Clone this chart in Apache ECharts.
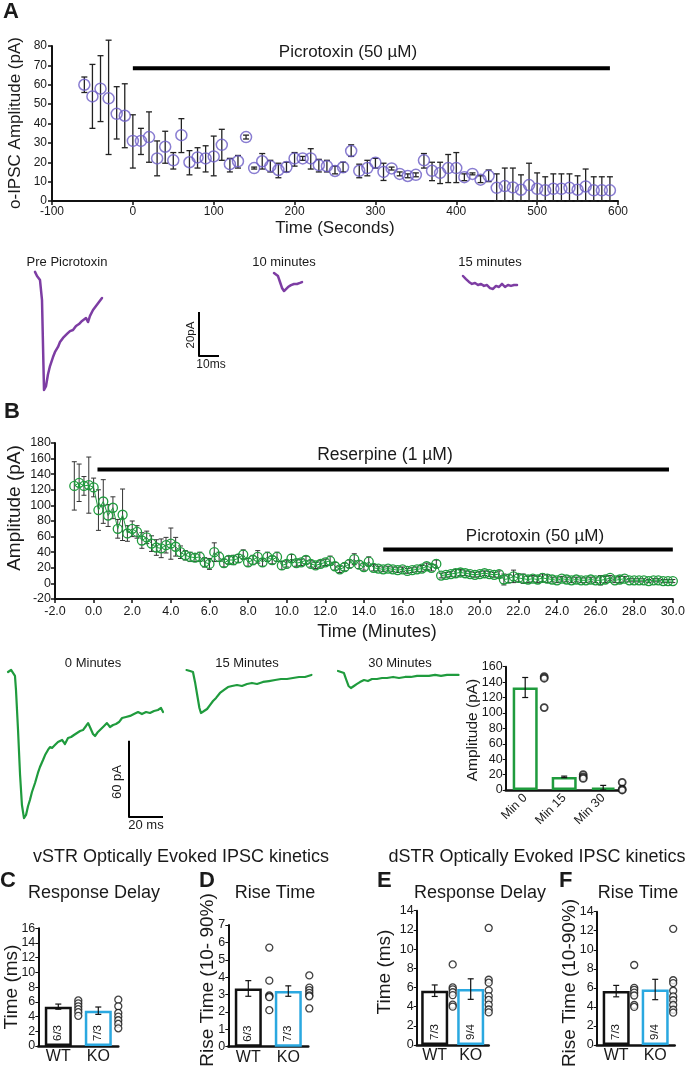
<!DOCTYPE html>
<html><head><meta charset="utf-8">
<script src="https://cdn.jsdelivr.net/npm/echarts/dist/echarts.min.js"></script>
<style>html,body{margin:0;padding:0;background:#fff}#c{width:688px;height:1066px}</style>
</head><body><div id="c"></div>
<script>
// ================= DATA =================
// Panel A: o-IPSC amplitude vs time (s)
const aTime = [-60,-50,-40,-30,-20,-10,0,10,20,30,40,50,60,70,80,90,100,110,120,130,140,150,160,170,180,190,200,210,220,230,240,250,260,270,280,290,300,310,320,330,340,350,360,370,380,390,400,410,420,430,440,450,460,470,480,490,500,510,520,530,540,550,560,570,580,590];
const aMean = [60,54,58,53,45,44,31,31,33,22,28,21,34,20,22.5,22,23,29,19,20.5,33,17,20.5,18,16,17.5,22,22,22,18.5,18,15.5,17.4,25.8,15.6,17,19.8,15,16.8,14,12.9,13.5,21,15.6,14.5,17,17,12.3,14,11,13,6.8,7.7,7,5.8,8.2,6.3,5.5,6.3,6.3,6.8,5.8,7.5,5.5,5.5,5.5];
const aLow = [56,37.5,41,24,32,27.5,17,24,20,13,19.5,16.5,25,13.5,17,15,13,21,15,17,32,16.5,16.5,15,12,15,18,21,16.5,15,15,14,15,23,12,13,17,10.6,16,13,12,12.5,17,10.5,9,9.5,9.5,10.5,13.5,9.5,10,0,0,0,0,0,0,0,0,0,0,0,0,0,0,0];
const aHigh = [64,70.5,75,83,59,60.5,44.5,37.5,46,31,36,25,42.5,26,27.5,28.5,33.5,37,22,23.5,34,17.5,24.5,21,19.5,20,25,23,27,21.5,21,18,20,29,19,21,22,19.5,17.5,15,14,14.5,24.5,20,20,24,25,14,14.5,13,16,14,17,17,13.5,19.5,14.5,12.5,14,14,14,13,16.5,12.5,12.5,12.5];
const aDrugLabel = 'Picrotoxin (50 µM)';
const aDrugSpan = [0, 590];
const aDrugLevel = 68.5;
// Panel A example traces: [ms, pA relative to baseline]
const aTraceLabels = ['Pre Picrotoxin', '10 minutes', '15 minutes'];
const aTracePre = [[0,0.5],[1,-1.4],[2,-0.5],[2.5,-3.2],[3,-2.7],[3.5,-12.3],[4,-32.7],[4.5,-53.2],[5.5,-51.4],[6.5,-46],[7.5,-42.3],[9,-38.2],[10,-35.9],[11.5,-33.6],[12.5,-31.4],[14,-29.5],[16,-27.7],[17.5,-26.4],[19,-25.9],[20.5,-24.1],[22,-23.2],[23.5,-21.8],[24.5,-22.7],[25.5,-20.5],[26.5,-22.3],[27.5,-19.5],[29,-16.8],[30.5,-15],[32,-13.2],[33.5,-11.4]];
const aTrace10 = [[0,0],[1,-0.5],[2,-1.4],[3,-4.1],[4,-6.8],[5,-8.2],[6,-7.3],[7,-6.4],[8.5,-5.5],[10,-5],[11.5,-5],[13,-4.5],[14,-4.1]];
const aTrace15 = [[0,0],[1.5,-1.4],[3,-2.7],[4.5,-3.6],[6,-3.2],[7.5,-4.1],[9,-3.6],[10.5,-4.5],[12,-4.1],[13.5,-5.5],[15,-5.9],[16.5,-4.5],[18,-5],[19.5,-3.6],[21,-5],[22.5,-4.1],[24,-4.5],[25.5,-4.1],[27,-4.1]];
const aScaleBar = [[0,20],[0,0],[10,0]];
const aScaleLabels = ['20pA', '10ms'];

// Panel B: amplitude vs time (min)
const bTime = [-1,-0.75,-0.5,-0.25,0,0.25,0.5,0.75,1,1.25,1.5,1.75,2,2.25,2.5,2.75,3,3.25,3.5,3.75,4,4.25,4.5,4.75,5,5.25,5.5,5.75,6,6.25,6.5,6.75,7,7.25,7.5,7.75,8,8.25,8.5,8.75,9,9.25,9.5,9.75,10,10.25,10.5,10.75,11,11.25,11.5,11.75,12,12.25,12.5,12.75,13,13.25,13.5,13.75,14,14.25,14.5,14.75,15,15.25,15.5,15.75,16,16.25,16.5,16.75,17,17.25,17.5,17.75,18,18.25,18.5,18.75,19,19.25,19.5,19.75,20,20.25,20.5,20.75,21,21.25,21.5,21.75,22,22.25,22.5,22.75,23,23.25,23.5,23.75,24,24.25,24.5,24.75,25,25.25,25.5,25.75,26,26.25,26.5,26.75,27,27.25,27.5,27.75,28,28.25,28.5,28.75,29,29.25,29.5,29.75,30];
const bMean = [125,129,125,126,123, 94,105,87,97, 70,88,64,70, 66,55,59,51, 46,45,49,51, 47,40,36,34, 33,34,27,25, 40,34,26,30, 30,32,37,27, 30,34,27,34, 30,34,23,25, 32,26,27,30, 25,23,25,27, 29,22,18,21, 25,31,24,21, 28,20,19,18, 19,18,17,18, 16,17,18,19, 22,20,25,10, 11,12,13,14, 13,12,11,12, 13,12,11,12, 5,6,9,7, 6,5,6,5, 7,6,5,4, 6,5,4,5, 4,4,5,4, 4,5,7,4, 5,6,4,4, 4,4,3,4, 4,3,3,3];
const bErr = [31,24,12,36,12, 26,28,14,14, 12,33,10,10, 8,10,8,10, 10,12,10,20, 12,8,6,6, 5,6,6,7, 12,6,5,5, 6,5,6,5, 6,8,5,6, 5,6,5,4, 5,4,4,5, 4,4,4,4, 6,5,4,5, 5,7,5,4, 6,4,3,3, 3,3,3,3, 3,3,3,4, 4,4,5,3, 3,3,5,4, 3,3,3,3, 3,3,3,4, 7,5,8,5, 6,4,4,4, 5,5,3,3, 3,3,3,3, 3,3,3,3, 6,4,3,3, 4,3,2,2, 2,2,2,2, 2,2,2,2];
const bDrugLabels = ['Reserpine (1 µM)', 'Picrotoxin (50 µM)'];
const bDrugSpans = [[0.2, 29.8], [15, 30]];
const bDrugLevels = [146, 43.6];
const bTraceLabels = ['0 Minutes', '15 Minutes', '30 Minutes'];
const bTrace0 = [[0,0],[1.8,1.6],[2.9,0.8],[4.1,-3.1],[4.7,-14.2],[5.9,-45.7],[7.1,-81.1],[8.2,-104.7],[9.4,-115],[10.6,-112.6],[11.8,-105.5],[12.9,-100.8],[14.1,-94.5],[15.9,-87.4],[17.6,-79.5],[18.8,-74.8],[20.6,-69.3],[21.8,-65.4],[23.5,-61.4],[24.7,-59.1],[25.9,-59.8],[27.6,-57.5],[29.4,-55.1],[31.8,-53.5],[33.5,-56.7],[35.3,-52],[37.1,-51.2],[38.8,-49.6],[40.6,-48],[42.4,-46.5],[44.1,-45.7],[45.9,-42.5],[47.1,-40.2],[48.2,-43.3],[50,-48.8],[51.2,-50.4],[52.9,-47.2],[54.7,-44.9],[56.5,-42.5],[58.2,-40.2],[60,-43.3],[61.8,-41.7],[63.5,-40.9],[65.3,-39.4],[67.1,-36.2],[69.4,-35.4],[71.8,-34.6],[74.1,-33.1],[76.5,-31.5],[78.8,-33.1],[81.2,-31.5],[83.5,-32.3],[85.9,-30.7],[88.2,-29.9],[90,-28.3],[91.2,-31.5]];
const bTrace15 = [[0,0],[2.1,-0.8],[3.8,-1.6],[5,-9.4],[6.5,-21.3],[7.6,-29.9],[8.5,-33.9],[10.3,-32.3],[12.1,-30.7],[13.8,-27.6],[15.6,-24.4],[17.4,-22],[19.7,-18.1],[22.1,-15.7],[24.4,-13.4],[26.8,-12.6],[29.7,-11.8],[32.6,-12.6],[35.6,-11],[38.5,-10.2],[41.5,-11],[45,-9.4],[48.5,-8.7],[52.1,-7.9],[55.6,-7.1],[59.1,-7.1],[62.6,-6.3],[66.2,-5.5],[69.7,-5.5],[73.5,-3.9]];
const bTrace30 = [[0,0],[1.8,-0.8],[3.5,-1.6],[4.7,-6.3],[6.2,-11.8],[7.6,-13.4],[9.4,-11.8],[11.2,-10.2],[12.9,-8.7],[15.3,-7.1],[17.6,-7.9],[20,-6.3],[22.9,-6.3],[25.9,-5.5],[28.8,-5.5],[32.4,-4.7],[35.9,-5.5],[39.4,-4.7],[42.9,-4.7],[46.5,-3.9],[50,-3.9],[53.5,-3.9],[57.1,-3.1],[60.6,-3.9],[64.1,-3.1],[67.6,-3.1],[70.9,-3.1]];
const bScaleBar = [[0,60],[0,0],[20,0]];
const bScaleLabels = ['60 pA', '20 ms'];
// Panel B summary bars
const bBarCats = ['Min 0', 'Min 15', 'Min 30'];
const bBarMean = [133, 17, 3];
const bBarErr = [13, 1, 3];
const bBarPoints = [[147,145,107],[20,17,15],[10,1,0]];

// Panels C-F
const groups = ['WT', 'KO'];
const cMean = [5.35, 4.8];  const cErr = [0.35, 0.5];
const cPoints = [[6.2,5.8,5.4,5.0,4.6,4.1],[6.3,5.4,4.5,4.0,3.5,3.0,2.4]];
const cN = ['6/3', '7/3'];
const dMean = [3.35, 3.2];  const dErr = [0.45, 0.3];
const dPoints = [[5.7,3.8,2.95,2.9,2.85,2.1],[4.1,3.4,3.25,3.1,2.95,2.9,2.2]];
const dN = ['6/3', '7/3'];
const eMean = [5.66, 5.83]; const eErr = [0.6, 1.07];
const ePoints = [[8.4,6.0,5.8,5.5,5.2,4.2,4.0],[12.2,6.8,6.5,5.7,5.1,4.7,4.2,3.7,3.4]];
const eN = ['7/3', '9/4'];
const fMean = [5.66, 5.83]; const fErr = [0.6, 1.07];
const fPoints = [[8.4,6.0,5.8,5.5,5.2,4.2,4.0],[12.2,6.8,6.5,5.7,5.1,4.7,4.2,3.7,3.4]];
const fN = ['7/3', '9/4'];

// ================= BUILD =================
const TXT = '#1a1a1a';
const FONT = "'Liberation Sans', Arial, Helvetica, sans-serif";
const PURPLE_M = '#6c5cc6', PURPLE_T = '#7d3da3', GREEN = '#1f9b3d', BLUE = '#2aa8e0';
const grids = [], xAxes = [], yAxes = [], series = [], graphics = [];

function addGrid(g, xa, ya) {
  const gi = grids.length;
  grids.push(g);
  xAxes.push(Object.assign({gridIndex: gi}, xa));
  yAxes.push(Object.assign({gridIndex: gi}, ya));
  return gi;
}
function valAxis(min, max, interval, extra) {
  return Object.assign({type: 'value', min: min, max: max, interval: interval,
    axisLine: {show: true, onZero: false, lineStyle: {color: '#111', width: 2}},
    axisTick: {show: true, length: 4, lineStyle: {color: '#111', width: 1.5}},
    splitLine: {show: false},
    axisLabel: {color: TXT, fontSize: 12, fontFamily: FONT, margin: 5}}, extra || {});
}
function errRender(color, lw, cap) {
  return function (params, api) {
    const x = api.value(0), lo = api.value(1), hi = api.value(2);
    const a = api.coord([x, lo]), b = api.coord([x, hi]);
    const cx = a[0];
    const st = {stroke: color, lineWidth: lw};
    return {type: 'group', children: [
      {type: 'line', shape: {x1: cx, y1: a[1], x2: cx, y2: b[1]}, style: st},
      {type: 'line', shape: {x1: cx - cap, y1: a[1], x2: cx + cap, y2: a[1]}, style: st},
      {type: 'line', shape: {x1: cx - cap, y1: b[1], x2: cx + cap, y2: b[1]}, style: st}
    ]};
  };
}
function errSeries(gi, data, color, lw, cap) {
  return {type: 'custom', xAxisIndex: gi, yAxisIndex: gi, renderItem: errRender(color, lw, cap),
    data: data, encode: {x: 0, y: [1, 2]}, clip: false, silent: true, z: 3};
}
function traceGrid(left, baseline, wPx, above, below, pxMs, pxPA) {
  return addGrid({left: left, top: baseline - above, width: wPx, height: above + below},
    {type: 'value', min: 0, max: wPx / pxMs, show: false},
    {type: 'value', min: -below / pxPA, max: above / pxPA, show: false});
}
function lineSeries(gi, data, color, width) {
  return {type: 'line', xAxisIndex: gi, yAxisIndex: gi, data: data, symbol: 'none', clip: false,
    lineStyle: {color: color, width: width, join: 'round', cap: 'round'}, silent: true, z: 4};
}
function text(str, x, y, size, opts) {
  opts = opts || {};
  graphics.push({type: 'text', x: x, y: y, rotation: opts.rot || 0, z: 100,
    style: {text: str, fill: TXT, font: (opts.bold ? 'bold ' : '') + size + 'px ' + FONT,
      textAlign: opts.align || 'center', align: opts.align || 'center',
      textVerticalAlign: 'middle', verticalAlign: 'middle'}});
}

// ---------- Panel A main ----------
const gA = addGrid({left: 52, top: 46, width: 566, height: 155},
  valAxis(-100, 600, 100), valAxis(0, 80, 10));
series.push(errSeries(gA, aTime.map((t, i) => [t, aLow[i], aHigh[i]]), '#222', 1.3, 3));
series.push({type: 'scatter', xAxisIndex: gA, yAxisIndex: gA, data: aTime.map((t, i) => [t, aMean[i]]),
  symbol: 'circle', symbolSize: 11, silent: true, z: 5,
  itemStyle: {color: 'rgba(0,0,0,0)', borderColor: PURPLE_M, borderWidth: 1.5}});
series.push(lineSeries(gA, [[aDrugSpan[0], aDrugLevel], [aDrugSpan[1], aDrugLevel]], '#000', 4));
series[series.length - 1].lineStyle.cap = 'butt';
text(aDrugLabel, 348, 52, 17);
text('o-IPSC Amplitude (pA)', 15, 123, 17, {rot: Math.PI / 2});
text('Time (Seconds)', 335, 228, 17);
text('A', 3, 12, 22, {bold: true, align: 'left'});

// Panel A traces (2 px/ms, 2.2 px/pA)
const gAp = traceGrid(35, 273, 70, 6, 122, 2, 2.2);
series.push(lineSeries(gAp, aTracePre, PURPLE_T, 2.5));
const gA10 = traceGrid(274, 273, 30, 6, 26, 2, 2.2);
series.push(lineSeries(gA10, aTrace10, PURPLE_T, 2.5));
const gA15 = traceGrid(463, 276, 56, 6, 20, 2, 2.2);
series.push(lineSeries(gA15, aTrace15, PURPLE_T, 2.5));
const gAs = traceGrid(199, 356, 22, 46, 2, 2, 2.2);
series.push(lineSeries(gAs, aScaleBar, '#000', 2));
series[series.length - 1].lineStyle.cap = 'butt';
text(aTraceLabels[0], 67, 262, 13);
text(aTraceLabels[1], 284, 262, 13);
text(aTraceLabels[2], 490, 262, 13);
text(aScaleLabels[0], 191, 335, 11.5, {rot: Math.PI / 2});
text(aScaleLabels[1], 211, 365, 12);

// ---------- Panel B main ----------
const gB = addGrid({left: 55, top: 443, width: 618.5, height: 156},
  valAxis(-2, 30, 2, {axisLabel: {color: TXT, fontSize: 12.5, fontFamily: FONT, margin: 6, formatter: v => v.toFixed(1)}}),
  valAxis(-20, 180, 20, {axisLabel: {color: TXT, fontSize: 12.5, fontFamily: FONT, margin: 4}}));
series.push(errSeries(gB, bTime.map((t, i) => [t, bMean[i] - bErr[i], bMean[i] + bErr[i]]), '#333', 1, 2.5));
series.push({type: 'line', xAxisIndex: gB, yAxisIndex: gB, data: bTime.map((t, i) => [t, bMean[i]]),
  symbol: 'circle', symbolSize: 9, showAllSymbol: true, silent: true, z: 5,
  lineStyle: {color: GREEN, width: 1},
  itemStyle: {color: 'rgba(0,0,0,0)', borderColor: GREEN, borderWidth: 1.3}});
bDrugSpans.forEach((s, i) => {
  series.push(lineSeries(gB, [[s[0], bDrugLevels[i]], [s[1], bDrugLevels[i]]], '#000', 4));
  series[series.length - 1].lineStyle.cap = 'butt';
});
text(bDrugLabels[0], 385, 455, 17.5);
text(bDrugLabels[1], 535, 536, 17);
text('Amplitude (pA)', 15, 508, 19, {rot: Math.PI / 2});
text('Time (Minutes)', 377, 632, 18);
text('B', 4, 412, 22, {bold: true, align: 'left'});

// Panel B traces (1.7 px/ms, 1.27 px/pA)
const gB0 = traceGrid(8, 672, 158, 8, 150, 1.7, 1.27);
series.push(lineSeries(gB0, bTrace0, GREEN, 2.2));
const gB15 = traceGrid(186.5, 670, 128, 6, 48, 1.7, 1.27);
series.push(lineSeries(gB15, bTrace15, GREEN, 2.2));
const gB30 = traceGrid(338, 671, 123, 6, 22, 1.7, 1.27);
series.push(lineSeries(gB30, bTrace30, GREEN, 2.2));
const gBs = traceGrid(129, 817, 36, 78, 2, 1.7, 1.27);
series.push(lineSeries(gBs, bScaleBar, '#000', 2));
series[series.length - 1].lineStyle.cap = 'butt';
text(bTraceLabels[0], 93, 663, 13);
text(bTraceLabels[1], 247, 663, 13);
text(bTraceLabels[2], 400, 663, 13);
text(bScaleLabels[0], 117, 782, 13, {rot: Math.PI / 2});
text(bScaleLabels[1], 146, 825, 13);

// Panel B summary bar chart
function catAxis(cats, extra) {
  return Object.assign({type: 'category', data: cats,
    axisLine: {show: true, lineStyle: {color: '#111', width: 2.5}},
    axisTick: {show: false}, splitLine: {show: false},
    axisLabel: {color: TXT, fontSize: 16, fontFamily: FONT, margin: 3}}, extra || {});
}
const gBb = addGrid({left: 505.7, top: 666.7, width: 117, height: 123.3},
  catAxis(bBarCats, {axisLabel: {color: TXT, fontSize: 12.5, fontFamily: FONT, margin: 6, rotate: 45, interval: 0}}),
  valAxis(0, 160, 20, {axisTick: {show: true, length: 3, lineStyle: {color: '#111'}},
    axisLabel: {color: TXT, fontSize: 12.5, fontFamily: FONT, margin: 3}}));
series.push({type: 'bar', xAxisIndex: gBb, yAxisIndex: gBb, data: bBarMean, barWidth: 25, silent: true, z: 2,
  itemStyle: {color: '#fff', borderColor: GREEN, borderWidth: 2.5}});
series.push(errSeries(gBb, bBarMean.map((m, i) => [i, m - bBarErr[i], m + bBarErr[i]]), '#111', 1.2, 3));
series.push({type: 'scatter', xAxisIndex: gBb, yAxisIndex: gBb, silent: true, z: 6,
  data: [].concat(...bBarPoints.map((arr, i) => arr.map(v => [i, v]))),
  symbol: 'circle', symbolSize: 7, symbolOffset: [19, 0],
  itemStyle: {color: '#fff', borderColor: '#111', borderWidth: 1.8}});
text('Amplitude (pA)', 473, 730, 15.5, {rot: Math.PI / 2});

// ---------- Panels C-F ----------
const GROUP_COLORS = ['#111', BLUE];
function barPanel(grid, yMin, yMax, yInt, mean, err, pts, nLab, dotOffset) {
  const gi = addGrid(grid, catAxis(groups),
    valAxis(yMin, yMax, yInt, {axisTick: {show: true, length: 3, lineStyle: {color: '#111'}},
      axisLabel: {color: TXT, fontSize: 12.5, fontFamily: FONT, margin: 3}}));
  series.push({type: 'bar', xAxisIndex: gi, yAxisIndex: gi, barWidth: 27, silent: true, z: 2,
    data: mean.map((m, i) => ({value: m, itemStyle: {color: '#fff', borderColor: GROUP_COLORS[i], borderWidth: 2.5}})),
    label: {show: true, position: 'insideBottom', rotate: 90, align: 'left', verticalAlign: 'middle', distance: 5,
      formatter: p => nLab[p.dataIndex], color: TXT, fontSize: 11.5, fontFamily: FONT}});
  series.push(errSeries(gi, mean.map((m, i) => [i, m - err[i], m + err[i]]), '#111', 1.2, 3));
  series.push({type: 'scatter', xAxisIndex: gi, yAxisIndex: gi, silent: true, z: 6,
    data: [].concat(...pts.map((arr, i) => arr.map(v => [i, v]))),
    symbol: 'circle', symbolSize: 7, symbolOffset: [dotOffset, 0],
    itemStyle: {color: '#fff', borderColor: '#111', borderWidth: 1.3}});
}
barPanel({left: 38.3, top: 928.3, width: 80, height: 117.7}, 0, 16, 2, cMean, cErr, cPoints, cN, 20);
barPanel({left: 228.3, top: 925, width: 80, height: 121.7}, 0, 7, 1, dMean, dErr, dPoints, dN, 21);
barPanel({left: 416.7, top: 910.7, width: 72, height: 134.3}, 0, 14, 2, eMean, eErr, ePoints, eN, 18);
barPanel({left: 596.7, top: 911.7, width: 78, height: 133.3}, 0, 14, 2, fMean, fErr, fPoints, fN, 18);

text('vSTR Optically Evoked IPSC kinetics', 181, 857, 18);
text('dSTR Optically Evoked IPSC kinetics', 537, 857, 18);
text('C', 0, 881, 22, {bold: true, align: 'left'});
text('D', 199, 881, 22, {bold: true, align: 'left'});
text('E', 377, 881, 22, {bold: true, align: 'left'});
text('F', 559, 881, 22, {bold: true, align: 'left'});
text('Response Delay', 94, 893, 18);
text('Rise Time', 275, 893, 18);
text('Response Delay', 480, 893, 18);
text('Rise Time', 638, 893, 18);
text('Time (ms)', 12, 987, 19, {rot: Math.PI / 2});
text('Rise Time (10- 90%)', 208, 980, 19, {rot: Math.PI / 2});
text('Time (ms)', 385, 972, 19, {rot: Math.PI / 2});
text('Rise Time (10-90%)', 570, 983, 19, {rot: Math.PI / 2});

const chart = echarts.init(document.getElementById('c'), null, {renderer: 'canvas'});
chart.setOption({
  animation: false,
  backgroundColor: '#fff',
  textStyle: {fontFamily: FONT},
  grid: grids, xAxis: xAxes, yAxis: yAxes, series: series, graphic: graphics
});
</script></body></html>
